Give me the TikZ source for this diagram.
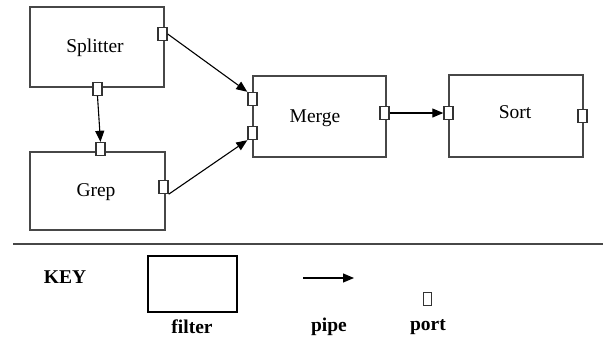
\documentclass[tikz,border=0pt]{standalone}
\usepackage{fontspec}
\setmainfont{Liberation Serif}
\usetikzlibrary{arrows.meta}
\begin{document}
\begin{tikzpicture}[x=1pt,y=-1pt,
  filterbox/.style={draw=black!72, line width=1.6pt, inner sep=0pt, rectangle},
  portbox/.style={draw=black!80, fill=white, line width=1.4pt, inner sep=0pt,
                  minimum width=9pt, minimum height=13pt, rectangle},
  label/.style={inner sep=0pt, font=\fontsize{19.5}{22}\selectfont},
  keylabel/.style={inner sep=0pt, font=\fontsize{19.5}{22}\selectfont\bfseries},
  pipe/.style={draw=black, line width=1.1pt, -{Triangle[length=11pt,width=9pt]}}]
\useasboundingbox (0,0) rectangle (603,341);

% filters
\node[filterbox, minimum width=134pt, minimum height=80pt] (split) at (97,47) {};
\node[filterbox, minimum width=135pt, minimum height=78pt] (grep) at (97.5,191) {};
\node[filterbox, minimum width=133pt, minimum height=81pt] (merge) at (319.5,116.5) {};
\node[filterbox, minimum width=134pt, minimum height=82pt] (sort) at (516,116) {};

\node[label] (tsplit) at (95,48) {Splitter};
\node[label] (tgrep) at (96,192) {Grep};
\node[label] (tmerge) at (315,118) {Merge};
\node[label] (tsort) at (515,112) {Sort};

% ports
\node[portbox] (sp-r) at (162.5,34) {};
\node[portbox] (sp-b) at (97.5,89) {};
\node[portbox] (gp-t) at (100.5,149) {};
\node[portbox] (gp-r) at (163.5,187) {};
\node[portbox] (mg-i1) at (252.5,99) {};
\node[portbox] (mg-i2) at (252.5,133) {};
\node[portbox] (mg-o) at (384.5,113) {};
\node[portbox] (st-i) at (448.5,113) {};
\node[portbox] (st-o) at (582.5,116) {};

% pipes
\draw[pipe] (sp-r.east) -- (mg-i1.north west);
\draw[pipe] (gp-r.south east) -- (mg-i2.south west);
\draw[pipe] (sp-b.south) -- (gp-t.north);
\draw[pipe] (mg-o.east) -- (st-i.west);

% separator
\coordinate (sepl) at (13,244);
\coordinate (sepr) at (603,244);
\draw[draw=black!72, line width=1.6pt] (sepl) -- (sepr);

% key
\node[keylabel] (key) at (65,277) {KEY};
\node[draw=black, line width=1.4pt, inner sep=0pt, minimum width=89pt, minimum height=56pt] (kfilter) at (192.5,284) {};
\node[keylabel] (kfiltert) at (192,327) {filter};
\coordinate (kpa) at (303,278);
\coordinate (kpb) at (354,278);
\draw[pipe] (kpa) -- (kpb);
\node[keylabel] (kpipet) at (329,327) {pipe};
\node[draw=black!80, fill=white, line width=1.1pt, inner sep=0pt, minimum width=8pt, minimum height=13pt] (kport) at (427.5,299) {};
\node[keylabel] (kportt) at (428,327) {port};
\end{tikzpicture}
\end{document}
